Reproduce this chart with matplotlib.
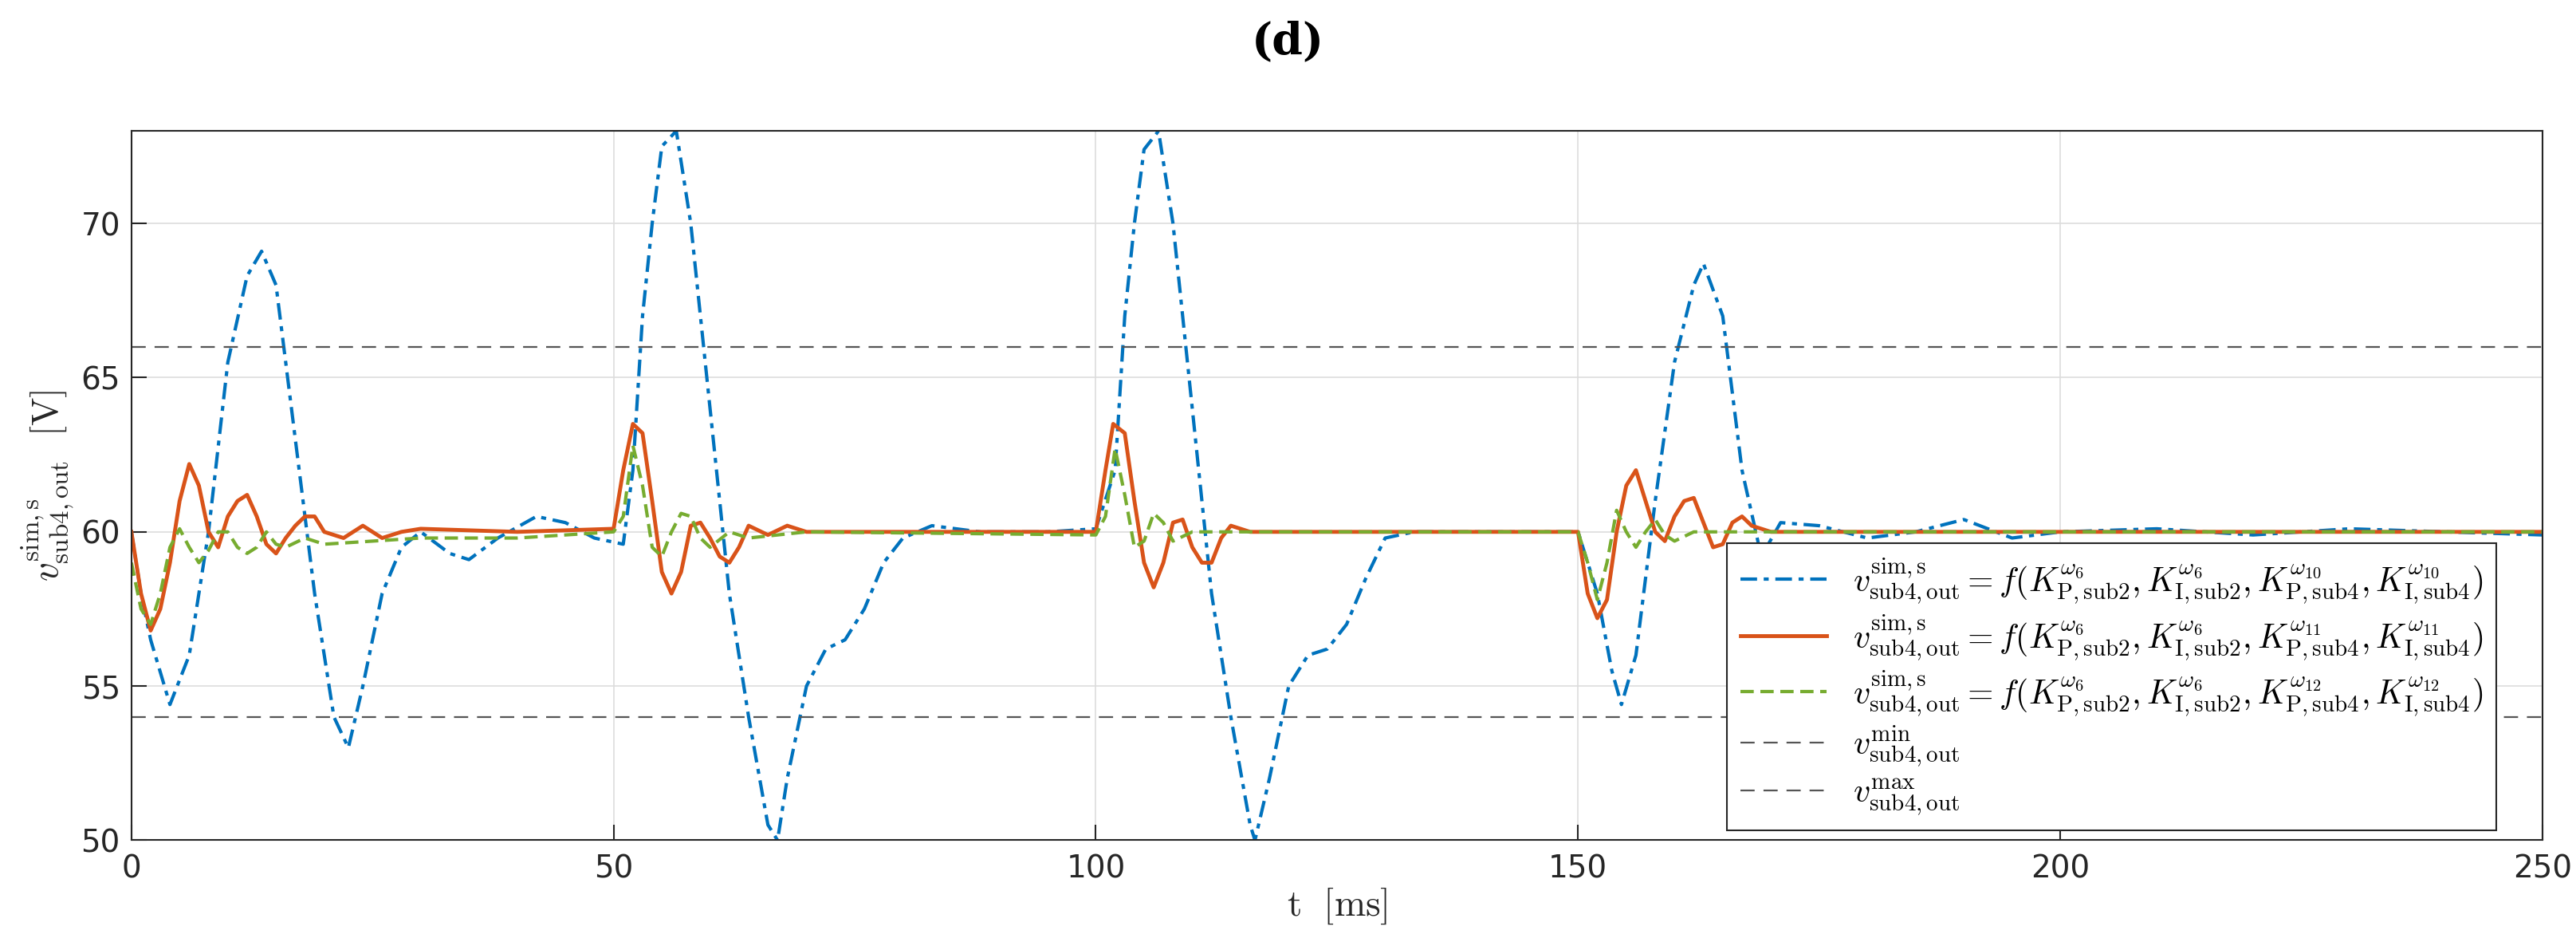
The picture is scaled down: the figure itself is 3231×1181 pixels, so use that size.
import matplotlib
matplotlib.use("Agg")
import matplotlib.pyplot as plt

blue_t = [0,1,2,4,6,8,10,12,13.5,15,17,19,21,22.5,24,26,28,30,33,35,38,42,45,48,51,52,53,54,55,56.5,58,60,62,64,66,67,68,70,72,74,76,78,80,83,88,95,100,
          102,103,104,105,106.5,108,110,112,114,116,116.5,118,120,122,124,126,128,130,133,140,150,152,153.5,154.5,156,158,160,162,163,165,167,169,171,175,180,185,190,195,200,210,220,230,240,250]
blue_v = [60,58,56.5,54.4,56,60,65.5,68.3,69.1,68,63,58,54,53,55,58,59.5,60,59.3,59.1,59.8,60.5,60.3,59.8,59.6,62,67,70,72.5,73,70,64,58,54,50.5,50,52,55,56.2,56.5,57.5,59,59.8,60.2,60,60,60.1,
          62,67,70,72.4,73,70,64,58,54,50.5,50,52,55,56,56.2,57,58.5,59.8,60,60,60,58,55.5,54.4,56,61,65.5,68,68.7,67,62,59.2,60.3,60.2,59.8,60,60.4,59.8,60,60.1,59.9,60.1,60,59.9]

red_t = [0,1,2,3,4,5,6,7,8,9,10,11,12,13,14,15,16,17,18,19,20,22,24,26,28,30,40,50,51,52,53,54,55,56,57,58,59,60,61,62,63,64,66,68,70,100,
         101,101.8,103,104,105,106,107,108,109,110,111,112,113,114,116,150,151,152,153,154,155,156,157,158,159,160,161,162,163,164,165,166,167,168,170,250]
red_v = [60,58,56.8,57.5,59,61,62.2,61.5,60,59.5,60.5,61,61.2,60.5,59.6,59.3,59.8,60.2,60.5,60.5,60,59.8,60.2,59.8,60,60.1,60,60.1,62,63.5,63.2,61,58.7,58,58.7,60.2,60.3,59.8,59.2,59,59.5,60.2,59.9,60.2,60,60,
         62,63.5,63.2,61,59,58.2,59,60.3,60.4,59.5,59,59,59.8,60.2,60,60,58,57.2,57.8,60,61.5,62,61,60,59.7,60.5,61,61.1,60.3,59.5,59.6,60.3,60.5,60.2,60,60]

green_t = [0,1,2,3,4,5,6,7,8,9,10,11,12,13,14,15,16,18,20,25,30,40,50,51,52,53,54,55,56,57,58,59,60,62,64,70,100,
           101,102,103,104,105,106,107,108,110,150,151,152,153,154,155,156,157,158,159,160,162,250]
green_v = [59,57.5,57,58,59.5,60.1,59.5,59,59.4,60,60,59.5,59.3,59.5,60,59.6,59.5,59.8,59.6,59.7,59.8,59.8,60,60.5,62.8,61.5,59.5,59.2,60,60.6,60.5,59.8,59.5,60,59.8,60,59.9,
           60.5,62.7,61.2,59.5,59.7,60.6,60.3,59.7,60,60,59,57.8,59,60.7,60,59.5,60,60.4,59.9,59.7,60,60]

v_min, v_max = 54, 66

lab_b = r"$v^{\mathrm{sim,s}}_{\mathrm{sub4,out}} = f(K^{\omega_6}_{\mathrm{P,sub2}}, K^{\omega_6}_{\mathrm{I,sub2}}, K^{\omega_{10}}_{\mathrm{P,sub4}}, K^{\omega_{10}}_{\mathrm{I,sub4}})$"
lab_r = r"$v^{\mathrm{sim,s}}_{\mathrm{sub4,out}} = f(K^{\omega_6}_{\mathrm{P,sub2}}, K^{\omega_6}_{\mathrm{I,sub2}}, K^{\omega_{11}}_{\mathrm{P,sub4}}, K^{\omega_{11}}_{\mathrm{I,sub4}})$"
lab_g = r"$v^{\mathrm{sim,s}}_{\mathrm{sub4,out}} = f(K^{\omega_6}_{\mathrm{P,sub2}}, K^{\omega_6}_{\mathrm{I,sub2}}, K^{\omega_{12}}_{\mathrm{P,sub4}}, K^{\omega_{12}}_{\mathrm{I,sub4}})$"

plt.rcParams['mathtext.fontset'] = 'cm'
fig = plt.figure(figsize=(32.31, 11.81), dpi=100)
ax = fig.add_axes([0.051, 0.108, 0.936, 0.753])
ax.plot(blue_t, blue_v, color='#0072BD', lw=3, ls=(0, (5, 2, 1.5, 2)), label=lab_b)
ax.plot(red_t, red_v, color='#D95319', lw=3.5, label=lab_r)
ax.plot(green_t, green_v, color='#77AC30', lw=3, ls=(0, (4, 2)), label=lab_g)
ax.axhline(v_min, color='#555555', lw=1.6, ls=(0, (8, 5)), label=r"$v^{\mathrm{min}}_{\mathrm{sub4,out}}$")
ax.axhline(v_max, color='#555555', lw=1.6, ls=(0, (8, 5)), label=r"$v^{\mathrm{max}}_{\mathrm{sub4,out}}$")
ax.set_xlim(0, 250)
ax.set_ylim(50, 73)
ax.set_xticks([0, 50, 100, 150, 200, 250])
ax.set_yticks([50, 55, 60, 65, 70])
ax.grid(True, color='#dddddd', lw=1.2)
ax.tick_params(labelsize=28, colors='#262626', direction='in', length=14, width=1.5)
ax.tick_params(axis='x', pad=12)
ax.tick_params(axis='y', pad=10)
for s in ax.spines.values():
    s.set_color('#262626'); s.set_linewidth(1.5)
ax.set_xlabel(r"$\mathrm{t}\ \ \mathrm{[ms]}$", fontsize=34, color='#262626', labelpad=2)
ax.set_ylabel(r"$v^{\mathrm{sim,s}}_{\mathrm{sub4,out}}\ \ \mathrm{[V]}$", fontsize=34, color='#262626', labelpad=4)
leg = ax.legend(loc='lower right', bbox_to_anchor=(0.985, 0.0), fontsize=30, frameon=True, fancybox=False,
                edgecolor='#262626', framealpha=1, borderaxespad=0.3, handlelength=2.6, labelspacing=0.2)
leg.get_frame().set_linewidth(1.5)
fig.text(0.5, 0.955, "(d)", ha='center', va='center', fontsize=40, fontweight='bold', family='DejaVu Serif')
fig.savefig("out.png", dpi=100)
